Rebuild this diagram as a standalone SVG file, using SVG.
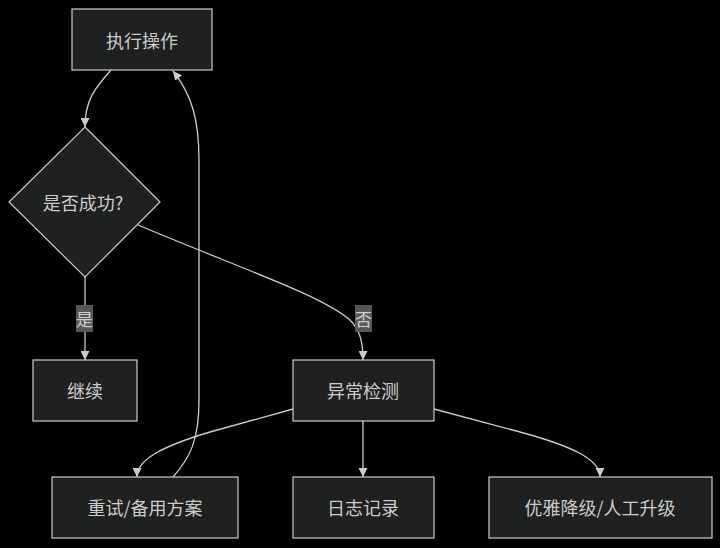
<svg xmlns="http://www.w3.org/2000/svg" width="720" height="548" viewBox="0 0 720 548">
<defs>
<style>
.node rect, .node polygon { fill:#1f2020; stroke:#cccccc; stroke-width:1.2; }
.node text { fill:#cccccc; font-family:"Noto Sans CJK SC","Noto Sans",sans-serif; font-size:18px; text-anchor:middle; dominant-baseline:central; }
.edge { fill:none; stroke:#cccccc; stroke-width:1.3; marker-end:url(#arrow); }
.plain { fill:none; stroke:#cccccc; stroke-width:1.3; }
.lbl rect { fill:#585858; }
.lbl text { fill:#cccccc; font-family:"Noto Sans CJK SC","Noto Sans",sans-serif; font-size:17px; text-anchor:middle; dominant-baseline:central; }
</style>
<marker id="arrow" viewBox="0 0 10 10" refX="10" refY="5" markerUnits="userSpaceOnUse" markerWidth="9" markerHeight="9" orient="auto">
<path d="M0,0 L10,5 L0,10 z" fill="#cccccc"/>
</marker>
</defs>
<rect width="720" height="548" fill="#000000"/>
<g id="connectors">
<path class="edge" d="M111,70 C95,88 85,100 85,127"/>
<path class="edge" d="M85,277 L85,360"/>
<path class="edge" d="M138,225 C250,272 320,295 350,320 C360,330 363,342 363,360"/>
<path class="edge" d="M293,409 L210,432 C160,447 137,460 137,477"/>
<path class="edge" d="M363,421 L363,477"/>
<path class="edge" d="M434,409 L520,432 C575,447 600,460 600,477"/>
<path class="edge" d="M173,477 C190,458 199,440 199,400 L199,160 C199,120 192,95 173,71"/>
</g>
<g id="label-yes" class="lbl"><rect x="76" y="305" width="17" height="27"/><text x="84.5" y="318.5">是</text></g>
<g id="label-no" class="lbl"><rect x="355" y="305" width="17" height="27"/><text x="363.5" y="318.5">否</text></g>
<g id="n-exec" class="node"><rect x="72" y="9" width="140" height="61"/><text x="142" y="40">执行操作</text></g>
<g id="n-check" class="node"><polygon points="85,127 160,202 85,277 9,202"/><text x="83" y="202">是否成功?</text></g>
<g id="n-continue" class="node"><rect x="33" y="360" width="104" height="61"/><text x="85" y="390">继续</text></g>
<g id="n-detect" class="node"><rect x="293" y="360" width="141" height="61"/><text x="363" y="390">异常检测</text></g>
<g id="n-retry" class="node"><rect x="52" y="477" width="186" height="61"/><text x="145" y="507">重试/备用方案</text></g>
<g id="n-log" class="node"><rect x="293" y="477" width="141" height="61"/><text x="363" y="507">日志记录</text></g>
<g id="n-degrade" class="node"><rect x="489" y="477" width="223" height="61"/><text x="600" y="507">优雅降级/人工升级</text></g>
</svg>
